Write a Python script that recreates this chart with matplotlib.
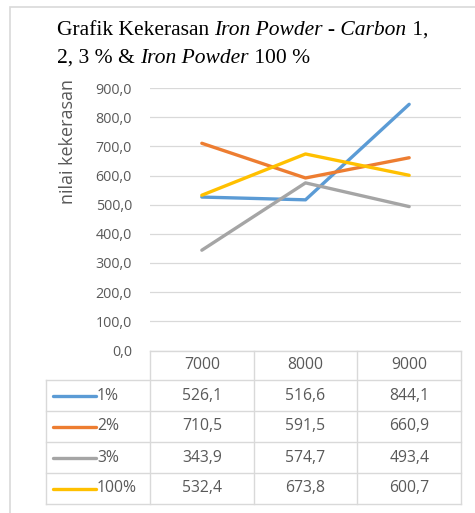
import matplotlib
matplotlib.use("Agg")
import matplotlib.pyplot as plt
from matplotlib.patches import Rectangle
from matplotlib.lines import Line2D

kecepatan = ["7000", "8000", "9000"]
seri = ["1%", "2%", "3%", "100%"]
nilai_1 = [526.1, 516.6, 844.1]
nilai_2 = [710.5, 591.5, 660.9]
nilai_3 = [343.9, 574.7, 493.4]
nilai_100 = [532.4, 673.8, 600.7]
warna = ["#5b9bd5", "#ed7d31", "#a5a5a5", "#ffc000"]
y_ticks = [0, 100, 200, 300, 400, 500, 600, 700, 800, 900]

W, H = 475, 513
fig = plt.figure(figsize=(W / 100, H / 100), dpi=100)
font = "Open Sans"
abu = "#595959"
grid = "#d9d9d9"
fs_tabel = 11.3

def fx(px):
  return px / W
def fy(py):
  return 1 - py / H

# border of the chart area
fig.patches.append(Rectangle((fx(10), fy(520)), fx(480), 520 / H - 7 / H,
                             transform=fig.transFigure, fill=False,
                             edgecolor="#d9d9d9", lw=1.2))

# plot area
L, R, T, B = 150, 461, 88, 350.5
ax = fig.add_axes([fx(L), fy(B), fx(R - L), (B - T) / H])
data = [nilai_1, nilai_2, nilai_3, nilai_100]
x = range(len(kecepatan))
for vals, c in zip(data, warna):
  ax.plot(x, vals, color=c, lw=2.4, solid_capstyle="round")
ax.set_xlim(-0.5, len(kecepatan) - 0.5)
ax.set_ylim(0, 900)
ax.set_yticks(y_ticks)
ax.set_yticklabels([f"{v:.1f}".replace(".", ",") for v in y_ticks],
                   fontfamily=font, fontsize=10.3, color=abu)
ax.set_xticks([])
ax.tick_params(axis="y", length=0, pad=13)
ax.grid(axis="y", color=grid, lw=0.9)
ax.set_axisbelow(True)
for s in ax.spines.values():
  s.set_visible(False)
ax.patch.set_visible(False)

fig.text(fx(68), fy(141), "nilai kekerasan", rotation=90, ha="center",
         va="center", fontfamily=font, fontsize=13, color=abu)

# title with italic parts
baris = [
  [("Grafik Kekerasan ", "normal"), ("Iron Powder - Carbon", "italic"), (" 1,", "normal")],
  [("2, 3 % & ", "normal"), ("Iron Powder", "italic"), (" 100 %", "normal")],
]
r = fig.canvas.get_renderer()
for i, parts in enumerate(baris):
  xpos = 57
  for txt, st in parts:
    t = fig.text(fx(xpos), fy(35 + 28 * i), txt, fontfamily="Liberation Serif",
                 fontstyle=st, fontsize=15.5, va="baseline", ha="left")
    bb = t.get_window_extent(renderer=r)
    xpos += bb.width

# data table under the chart
col = [L + (R - L) / 3 * k for k in range(4)]
rows = [350.5, 380, 411, 442, 473, 504]
lc = dict(color=grid, lw=1.0, transform=fig.transFigure)
leg_l = 46
fig.add_artist(Line2D([fx(L), fx(R)], [fy(rows[0])] * 2, **lc))
for yy in rows[1:]:
  fig.add_artist(Line2D([fx(leg_l), fx(R)], [fy(yy)] * 2, **lc))
for xx in col:
  fig.add_artist(Line2D([fx(xx)] * 2, [fy(rows[0]), fy(rows[-1])], **lc))
fig.add_artist(Line2D([fx(leg_l)] * 2, [fy(rows[1]), fy(rows[-1])], **lc))

for j, k in enumerate(kecepatan):
  fig.text(fx((col[j] + col[j + 1]) / 2), fy((rows[0] + rows[1]) / 2), k,
           ha="center", va="center", fontfamily=font, fontsize=fs_tabel, color=abu)
for i, (nama, vals, c) in enumerate(zip(seri, data, warna)):
  yc = (rows[i + 1] + rows[i + 2]) / 2
  fig.add_artist(Line2D([fx(53), fx(96)], [fy(yc)] * 2, color=c, lw=2.4,
                        solid_capstyle="round", transform=fig.transFigure))
  fig.text(fx(97), fy(yc), nama, ha="left", va="center", fontfamily=font,
           fontsize=fs_tabel, color=abu)
  for j, v in enumerate(vals):
    fig.text(fx((col[j] + col[j + 1]) / 2), fy(yc), f"{v:.1f}".replace(".", ","),
             ha="center", va="center", fontfamily=font, fontsize=fs_tabel, color=abu)

fig.savefig("out.png", dpi=100)
